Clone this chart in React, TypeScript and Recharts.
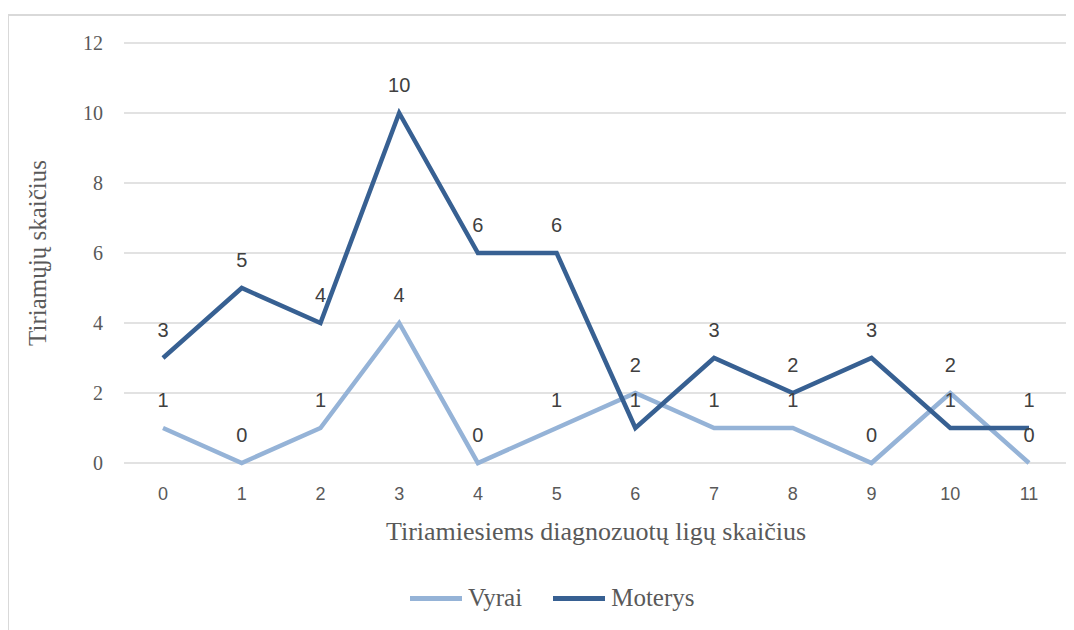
import { CartesianGrid, LabelList, Line, LineChart, XAxis, YAxis } from "recharts";

const categories = ["0", "1", "2", "3", "4", "5", "6", "7", "8", "9", "10", "11"];
const vyrai = [1, 0, 1, 4, 0, 1, 2, 1, 1, 0, 2, 0];
const moterys = [3, 5, 4, 10, 6, 6, 1, 3, 2, 3, 1, 1];
const yTicks = [0, 2, 4, 6, 8, 10, 12];

const data = categories.map((c, i) => ({ cat: c, vyrai: vyrai[i], moterys: moterys[i] }));

const LIGHT = "#95b3d7";
const DARK = "#376092";
const SERIF = "'Liberation Serif', 'Times New Roman', serif";
const SANS = "'Liberation Sans', 'Noto Sans', sans-serif";

const legendItems = [
  { name: "Vyrai", color: LIGHT },
  { name: "Moterys", color: DARK },
];

export default function App() {
  return (
    <div style={{ position: "relative", width: 1066, height: 622 }}>
      <div style={{ position: "absolute", left: -1, top: 6, width: 1080, height: 640, border: "2px solid #d9d9d9", boxSizing: "border-box" }} />
      <LineChart width={1066} height={545} data={data} margin={{ top: 35, right: 6, bottom: 0, left: 56 }}>
        <CartesianGrid stroke="#d9d9d9" strokeWidth={1.5} vertical={false} />
        <XAxis
          dataKey="cat"
          axisLine={false}
          tickLine={false}
          tickSize={0}
          tickMargin={24}
          padding={{ left: 39, right: 39 }}
          height={90}
          tick={{ fill: "#595959", fontSize: 18, fontFamily: SANS }}
          label={{ value: "Tiriamiesiems diagnozuotų ligų skaičius", position: "insideBottom", offset: 13, fill: "#595959", fontSize: 26, fontFamily: SERIF }}
        />
        <YAxis
          domain={[0, 12]}
          ticks={yTicks}
          axisLine={false}
          tickLine={false}
          tickSize={0}
          tickMargin={21}
          width={60}
          tick={{ fill: "#595959", fontSize: 20, fontFamily: SERIF }}
          label={{ value: "Tiriamųjų skaičius", angle: -90, position: "insideLeft", offset: -27, fill: "#595959", fontSize: 25, fontFamily: SERIF, style: { textAnchor: "middle" } }}
        />
        <Line dataKey="vyrai" name="Vyrai" stroke={LIGHT} strokeWidth={4.5} dot={false} isAnimationActive={false}>
          <LabelList dataKey="vyrai" position="top" offset={21} fill="#404040" fontSize={20} fontFamily={SANS} />
        </Line>
        <Line dataKey="moterys" name="Moterys" stroke={DARK} strokeWidth={4.5} dot={false} isAnimationActive={false}>
          <LabelList dataKey="moterys" position="top" offset={21} fill="#404040" fontSize={20} fontFamily={SANS} />
        </Line>
      </LineChart>
      <div style={{ position: "absolute", left: 402, top: 576, display: "flex", gap: 31, fontFamily: SERIF, fontSize: 25, color: "#595959" }}>
        {legendItems.map((p) => (
          <div key={p.name} style={{ display: "flex", alignItems: "center", gap: 6 }}>
            <span style={{ display: "inline-block", width: 52, height: 5, background: p.color }} />
            <span>{p.name}</span>
          </div>
        ))}
      </div>
    </div>
  );
}
